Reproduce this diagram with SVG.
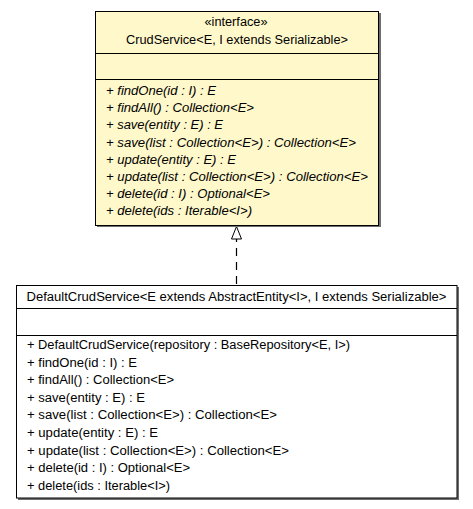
<svg xmlns="http://www.w3.org/2000/svg" width="473" height="509" viewBox="0 0 473 509">
<defs>
<style>
text{font-family:"Liberation Sans",Arial,sans-serif;font-size:12px;fill:#000}
.c{text-anchor:middle}
.i{font-style:italic}
.box{stroke:#000;stroke-width:1}
.sh{fill:#6e6e6e}
.sep{stroke:#000;stroke-width:1}
</style>
</defs>
<g id="connectors">
<line x1="236.5" y1="284" x2="236.5" y2="239" stroke="#000" stroke-width="1.2" stroke-dasharray="8,6"/>
<path d="M236.5,226.5 L231.5,239 L241.5,239 Z" fill="#fff" stroke="#000" stroke-width="1"/>
</g>
<g id="CrudService">
<rect class="sh" x="97" y="13" width="284" height="214"/>
<rect class="box" x="95.5" y="11.5" width="283" height="214" fill="#FFF8CB"/>
<line class="sep" x1="95.5" y1="53.5" x2="378.5" y2="53.5"/>
<line class="sep" x1="95.5" y1="79.5" x2="378.5" y2="79.5"/>
<text class="c" x="236" y="25.5" textLength="63" lengthAdjust="spacingAndGlyphs">«interface»</text>
<text class="c" x="237" y="43.5" textLength="222" lengthAdjust="spacingAndGlyphs">CrudService&lt;E, I extends Serializable&gt;</text>
<text class="i" x="106" y="95" textLength="110" lengthAdjust="spacingAndGlyphs">+ findOne(id : I) : E</text>
<text class="i" x="106" y="112.2" textLength="148" lengthAdjust="spacingAndGlyphs">+ findAll() : Collection&lt;E&gt;</text>
<text class="i" x="106" y="129.4" textLength="117" lengthAdjust="spacingAndGlyphs">+ save(entity : E) : E</text>
<text class="i" x="106" y="146.6" textLength="250" lengthAdjust="spacingAndGlyphs">+ save(list : Collection&lt;E&gt;) : Collection&lt;E&gt;</text>
<text class="i" x="106" y="163.8" textLength="130" lengthAdjust="spacingAndGlyphs">+ update(entity : E) : E</text>
<text class="i" x="106" y="181" textLength="262" lengthAdjust="spacingAndGlyphs">+ update(list : Collection&lt;E&gt;) : Collection&lt;E&gt;</text>
<text class="i" x="106" y="198.2" textLength="164" lengthAdjust="spacingAndGlyphs">+ delete(id : I) : Optional&lt;E&gt;</text>
<text class="i" x="106" y="215.4" textLength="146" lengthAdjust="spacingAndGlyphs">+ delete(ids : Iterable&lt;I&gt;)</text>
</g>
<g id="DefaultCrudService">
<rect class="sh" x="18" y="287" width="441" height="213"/>
<rect class="box" x="16.5" y="285.5" width="440.5" height="212.5" fill="#fff"/>
<line class="sep" x1="16.5" y1="308.5" x2="457" y2="308.5"/>
<line class="sep" x1="16.5" y1="335.5" x2="457" y2="335.5"/>
<text class="c" x="236.5" y="301" textLength="420" lengthAdjust="spacingAndGlyphs">DefaultCrudService&lt;E extends AbstractEntity&lt;I&gt;, I extends Serializable&gt;</text>
<text x="27" y="349" textLength="323" lengthAdjust="spacingAndGlyphs">+ DefaultCrudService(repository : BaseRepository&lt;E, I&gt;)</text>
<text x="27" y="366.6" textLength="110" lengthAdjust="spacingAndGlyphs">+ findOne(id : I) : E</text>
<text x="27" y="384.2" textLength="147" lengthAdjust="spacingAndGlyphs">+ findAll() : Collection&lt;E&gt;</text>
<text x="27" y="401.8" textLength="118" lengthAdjust="spacingAndGlyphs">+ save(entity : E) : E</text>
<text x="27" y="419.4" textLength="250" lengthAdjust="spacingAndGlyphs">+ save(list : Collection&lt;E&gt;) : Collection&lt;E&gt;</text>
<text x="27" y="437" textLength="131" lengthAdjust="spacingAndGlyphs">+ update(entity : E) : E</text>
<text x="27" y="454.6" textLength="262" lengthAdjust="spacingAndGlyphs">+ update(list : Collection&lt;E&gt;) : Collection&lt;E&gt;</text>
<text x="27" y="472.2" textLength="163" lengthAdjust="spacingAndGlyphs">+ delete(id : I) : Optional&lt;E&gt;</text>
<text x="27" y="489.8" textLength="143" lengthAdjust="spacingAndGlyphs">+ delete(ids : Iterable&lt;I&gt;)</text>
</g>
</svg>
